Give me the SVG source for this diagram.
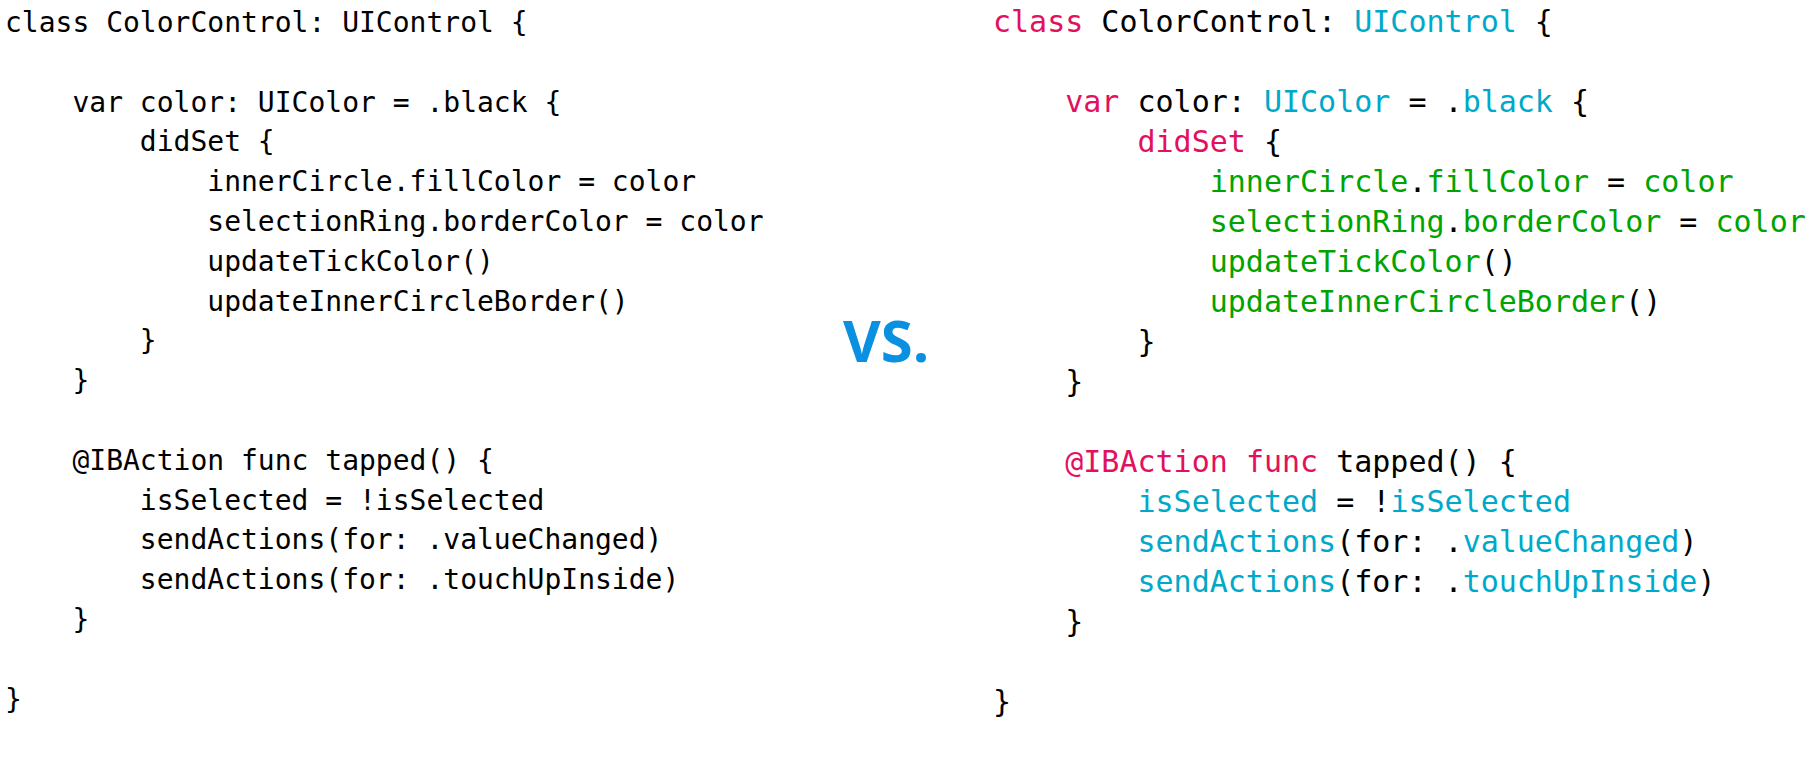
<svg xmlns="http://www.w3.org/2000/svg" width="1815" height="762" viewBox="0 0 1815 762">
<style>
.l{font-family:"DejaVu Sans Mono",monospace;font-size:28px;fill:#000;white-space:pre}
.r{font-family:"DejaVu Sans Mono",monospace;font-size:30px;fill:#000;white-space:pre}
.k{fill:#e3105e}.t{fill:#00a9c9}.g{fill:#00a300}
.vs{font-family:"Open Sans",sans-serif;font-weight:bold;font-size:58px;fill:#0a90e0}
</style>
<rect width="1815" height="762" fill="#fff"/>
<g id="left">
<text class="l" x="5" y="32">class ColorControl: UIControl {</text>
<text class="l" x="5" y="111.6">    var color: UIColor = .black {</text>
<text class="l" x="5" y="151.4">        didSet {</text>
<text class="l" x="5" y="191.2">            innerCircle.fillColor = color</text>
<text class="l" x="5" y="231">            selectionRing.borderColor = color</text>
<text class="l" x="5" y="270.8">            updateTickColor()</text>
<text class="l" x="5" y="310.6">            updateInnerCircleBorder()</text>
<text class="l" x="5" y="350.4">        }</text>
<text class="l" x="5" y="390.2">    }</text>
<text class="l" x="5" y="469.8">    @IBAction func tapped() {</text>
<text class="l" x="5" y="509.6">        isSelected = !isSelected</text>
<text class="l" x="5" y="549.4">        sendActions(for: .valueChanged)</text>
<text class="l" x="5" y="589.2">        sendActions(for: .touchUpInside)</text>
<text class="l" x="5" y="629">    }</text>
<text class="l" x="5" y="708.6">}</text>
</g>
<g id="vs"><text class="vs" x="843" y="362">VS.</text></g>
<g id="right">
<text class="r" x="993" y="32"><tspan class="k">class</tspan> ColorControl: <tspan class="t">UIControl</tspan> {</text>
<text class="r" x="993" y="112">    <tspan class="k">var</tspan> color: <tspan class="t">UIColor</tspan> = .<tspan class="t">black</tspan> {</text>
<text class="r" x="993" y="152">        <tspan class="k">didSet</tspan> {</text>
<text class="r" x="993" y="192">            <tspan class="g">innerCircle</tspan>.<tspan class="g">fillColor</tspan> = <tspan class="g">color</tspan></text>
<text class="r" x="993" y="232">            <tspan class="g">selectionRing</tspan>.<tspan class="g">borderColor</tspan> = <tspan class="g">color</tspan></text>
<text class="r" x="993" y="272">            <tspan class="g">updateTickColor</tspan>()</text>
<text class="r" x="993" y="312">            <tspan class="g">updateInnerCircleBorder</tspan>()</text>
<text class="r" x="993" y="352">        }</text>
<text class="r" x="993" y="392">    }</text>
<text class="r" x="993" y="472">    <tspan class="k">@IBAction</tspan> <tspan class="k">func</tspan> tapped() {</text>
<text class="r" x="993" y="512">        <tspan class="t">isSelected</tspan> = !<tspan class="t">isSelected</tspan></text>
<text class="r" x="993" y="552">        <tspan class="t">sendActions</tspan>(for: .<tspan class="t">valueChanged</tspan>)</text>
<text class="r" x="993" y="592">        <tspan class="t">sendActions</tspan>(for: .<tspan class="t">touchUpInside</tspan>)</text>
<text class="r" x="993" y="632">    }</text>
<text class="r" x="993" y="712">}</text>
</g>
</svg>
